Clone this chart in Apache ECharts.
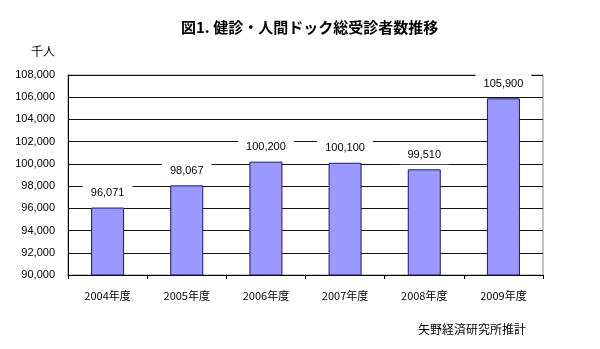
<!DOCTYPE html>
<html>
<head>
<meta charset="utf-8">
<script src="https://cdn.jsdelivr.net/npm/echarts@6/dist/echarts.min.js"></script>
<style>
  html, body { margin: 0; padding: 0; background: #fff; }
  #chart { width: 600px; height: 349px; }
</style>
</head>
<body>
<div id="chart"></div>
<script>
// 年度別の総受診者数（千人）
const categories = ['2004年度', '2005年度', '2006年度', '2007年度', '2008年度', '2009年度'];
const examinees = [96071, 98067, 100200, 100100, 99510, 105900];
const axisMin = 90000;
const axisMax = 108000;
const axisStep = 2000;

const titleText = '図1. 健診・人間ドック総受診者数推移';
const unitText = '千人';
const sourceText = '矢野経済研究所推計';

const numFont = 'Liberation Sans, Arial, sans-serif';
const jpFont = 'Noto Sans CJK JP, sans-serif';

const chart = echarts.init(document.getElementById('chart'), null, { renderer: 'canvas' });

chart.setOption({
  backgroundColor: '#ffffff',
  animation: false,
  title: [
    {
      text: titleText,
      left: 176,
      top: 15,
      textStyle: { fontFamily: jpFont, fontSize: 15, fontWeight: 'bold', color: '#000' }
    },
    {
      text: unitText,
      left: 26,
      top: 40,
      textStyle: { fontFamily: jpFont, fontSize: 12, fontWeight: 'normal', color: '#000' }
    },
    {
      text: sourceText,
      left: 413,
      top: 318,
      textStyle: { fontFamily: jpFont, fontSize: 12, fontWeight: 'normal', color: '#000' }
    }
  ],
  grid: {
    left: 68,
    top: 75,
    width: 475,
    height: 200,
    show: true,
    borderColor: '#8a8a8a',
    borderWidth: 1,
    backgroundColor: 'transparent'
  },
  xAxis: {
    type: 'category',
    data: categories,
    boundaryGap: true,
    axisLine: { show: true, lineStyle: { color: '#000', width: 1 } },
    axisTick: { show: true, inside: false, length: 4, lineStyle: { color: '#000' } },
    axisLabel: { margin: 15, fontFamily: jpFont, fontSize: 11, color: '#000' }
  },
  yAxis: {
    type: 'value',
    min: axisMin,
    max: axisMax,
    interval: axisStep,
    axisLine: { show: true, lineStyle: { color: '#000', width: 1 } },
    axisTick: { show: false },
    splitLine: { show: true, lineStyle: { color: '#111', width: 1 } },
    axisLabel: {
      margin: 13,
      fontFamily: numFont,
      fontSize: 11,
      color: '#000',
      formatter: v => v.toLocaleString('en-US')
    }
  },
  series: [
    {
      type: 'bar',
      data: examinees,
      barWidth: 33,
      itemStyle: { color: '#9999ff', borderColor: '#1a1a66', borderWidth: 1 },
      label: {
        show: true,
        position: 'top',
        distance: 5,
        fontFamily: numFont,
        fontSize: 11,
        color: '#000',
        backgroundColor: '#fff',
        padding: [4, 8],
        formatter: p => p.value.toLocaleString('en-US')
      }
    }
  ]
});
</script>
</body>
</html>
